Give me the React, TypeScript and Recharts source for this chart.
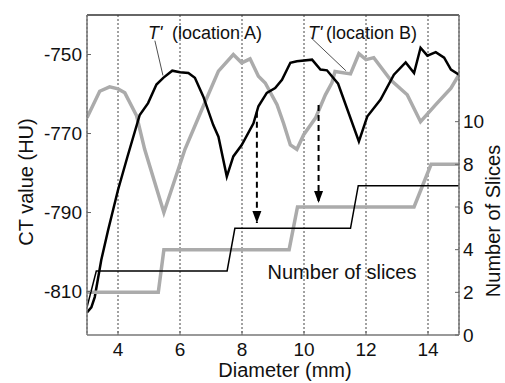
import { CartesianGrid, ComposedChart, Line, ReferenceLine, XAxis, YAxis } from "recharts"

const xTicks = [4, 6, 8, 10, 12, 14]
const ctTicks = [-810, -790, -770, -750]
const sliceTicks = [0, 2, 4, 6, 8, 10]

// T' at location A (black) and location B (gray), CT value in HU
const diamA = [3.0, 3.14, 3.25, 3.46, 3.68, 4.0, 4.3, 4.7, 4.97, 5.24, 5.46, 5.75, 6.0, 6.27, 6.48, 6.75, 7.07, 7.24, 7.51, 7.72, 7.99, 8.37, 8.53, 8.8, 9.07, 9.29, 9.56, 9.77, 10.26, 10.53, 10.74, 11.1, 11.77, 12.04, 12.47, 12.9, 13.28, 13.55, 13.76, 13.98, 14.25, 14.52, 14.74, 15.0]
const ctA = [-815.3, -814, -811.4, -802, -794.5, -784.3, -776, -765.3, -762.3, -757.6, -755.9, -754.1, -754.5, -754.7, -755.9, -760.6, -767.8, -770.8, -780.9, -775.8, -772.9, -767.4, -763.1, -759.7, -758.5, -756.4, -752.1, -751.7, -751.3, -753.8, -754, -757.4, -772, -765.7, -761.4, -755.1, -752, -754.7, -748.3, -750.3, -749.4, -750.8, -753.8, -755.1]
const diamB = [3.0, 3.41, 3.73, 4.0, 4.22, 4.6, 4.86, 5.48, 6.16, 6.75, 7.24, 7.72, 7.99, 8.26, 8.53, 8.75, 9.13, 9.34, 9.56, 9.77, 9.99, 10.37, 10.69, 10.9, 11.0, 11.5, 11.77, 12.0, 12.25, 12.79, 13.33, 13.76, 14.25, 14.74, 15.0]
const ctB = [-766, -759.3, -758.2, -758.7, -759.7, -765.5, -774, -790, -774, -763.1, -754.2, -750, -752.1, -751.1, -755.5, -757.2, -762.7, -767.4, -772.9, -774, -770.3, -766.1, -760.2, -757.2, -754.3, -754.9, -749.8, -751.3, -750.8, -756.4, -760.2, -767, -762.7, -758.5, -755.1]

// number of slices (right axis)
const stepDiamA = [3.0, 3.3, 7.52, 7.77, 11.5, 11.75, 15]
const slicesA = [1.3, 3, 3, 5, 5, 7, 7]
const stepDiamB = [3.0, 5.3, 5.48, 9.52, 9.79, 13.55, 14.1, 15]
const slicesB = [2, 2, 4, 4, 6, 6, 8, 8]

// dashed arrows, in slice units
const arrowDiam = [8.48, 10.47]
const arrowFrom = [10.47, 10.78]
const arrowTo = [5.25, 6.19]

// annotation leader lines, in CT units
const leaderDiamA = [5.19, 5.45]
const leaderCtA = [-746.5, -755.3]
const leaderDiamB = [10.22, 11.35]
const leaderCtB = [-745.7, -754.1]

const pts = (xs: number[], ys: number[]) => xs.map((x, i) => ({ x, y: ys[i] }))

const FONT = "'Liberation Sans', Arial, sans-serif"
const GRAY = "#ababab"

function ArrowHead(props: any) {
  const { cx, cy, index } = props
  if (index !== 1 || cx == null) return <g key={`a-${index}`} />
  return (
    <path
      key={`a-${index}`}
      d={`M${cx},${cy} L${cx - 4.5},${cy - 12} L${cx + 4.5},${cy - 12} Z`}
      fill="#000"
    />
  )
}

export default function App() {
  const tick = { fill: "#111", fontSize: 19, fontFamily: FONT }
  return (
    <div style={{ position: "absolute", left: 0, top: 0, width: 505, height: 383, background: "#fff" }}>
      <ComposedChart width={505} height={383} margin={{ top: 15, right: 0, bottom: 0, left: 0 }}>
        <CartesianGrid yAxisId="ct" horizontal={false} stroke="#444" strokeDasharray="2 2" />
        <XAxis
          type="number"
          dataKey="x"
          domain={[3, 15]}
          ticks={xTicks}
          allowDataOverflow
          height={48}
          tick={tick}
          tickSize={-4}
          tickMargin={12}
          tickLine={{ stroke: "#666" }}
          axisLine={{ stroke: "#777", strokeWidth: 1.5 }}
        />
        <YAxis
          yAxisId="ct"
          type="number"
          domain={[-821, -740]}
          ticks={ctTicks}
          allowDataOverflow
          width={87}
          tick={tick}
          tickSize={-4}
          tickMargin={9}
          tickLine={{ stroke: "#666" }}
          axisLine={{ stroke: "#777", strokeWidth: 1.5 }}
        />
        <YAxis
          yAxisId="n"
          orientation="right"
          type="number"
          domain={[0, 15]}
          ticks={sliceTicks}
          allowDataOverflow
          width={46}
          tick={tick}
          tickSize={-4}
          tickMargin={8}
          tickLine={{ stroke: "#666" }}
          axisLine={{ stroke: "#777", strokeWidth: 1.5 }}
        />
        <ReferenceLine yAxisId="ct" y={-740} stroke="#333" strokeWidth={1.5} />

        <Line yAxisId="ct" data={pts(diamB, ctB)} dataKey="y" type="linear" stroke={GRAY} strokeWidth={3.5} dot={false} isAnimationActive={false} />
        <Line yAxisId="ct" data={pts(diamA, ctA)} dataKey="y" type="linear" stroke="#000" strokeWidth={2.5} dot={false} isAnimationActive={false} />
        <Line yAxisId="n" data={pts(stepDiamB, slicesB)} dataKey="y" type="linear" stroke={GRAY} strokeWidth={3.5} dot={false} isAnimationActive={false} />
        <Line yAxisId="n" data={pts(stepDiamA, slicesA)} dataKey="y" type="linear" stroke="#000" strokeWidth={1.5} dot={false} isAnimationActive={false} />

        {arrowDiam.map((d, i) => (
          <Line
            key={`arrow-${i}`}
            yAxisId="n"
            data={[{ x: d, y: arrowFrom[i] }, { x: d, y: arrowTo[i] }]}
            dataKey="y"
            type="linear"
            stroke="#000"
            strokeWidth={2}
            strokeDasharray="6 4"
            dot={ArrowHead}
            activeDot={false}
            isAnimationActive={false}
          />
        ))}

        <Line yAxisId="ct" data={pts(leaderDiamA, leaderCtA)} dataKey="y" type="linear" stroke="#222" strokeWidth={0.8} dot={false} isAnimationActive={false} />
        <Line yAxisId="ct" data={pts(leaderDiamB, leaderCtB)} dataKey="y" type="linear" stroke="#222" strokeWidth={0.8} dot={false} isAnimationActive={false} />
      </ComposedChart>

      <svg
        width={505}
        height={383}
        style={{ position: "absolute", left: 0, top: 0, pointerEvents: "none" }}
        fontFamily={FONT}
        fill="#111"
      >
        <text x={148} y={38.5} fontSize={18} fontStyle="italic">T'</text>
        <text x={172} y={38.5} fontSize={18}>(location A)</text>
        <text x={308} y={38.5} fontSize={18} fontStyle="italic">T'</text>
        <text x={326} y={38.5} fontSize={18}>(location B)</text>
        <text x={342} y={279} fontSize={20} textAnchor="middle">Number of slices</text>
        <text x={285} y={377} fontSize={20} textAnchor="middle">Diameter (mm)</text>
        <text transform="translate(33,182) rotate(-90)" fontSize={20} textAnchor="middle">CT value (HU)</text>
        <text transform="translate(500,221) rotate(-90)" fontSize={20} textAnchor="middle">Number of Slices</text>
      </svg>
    </div>
  )
}
